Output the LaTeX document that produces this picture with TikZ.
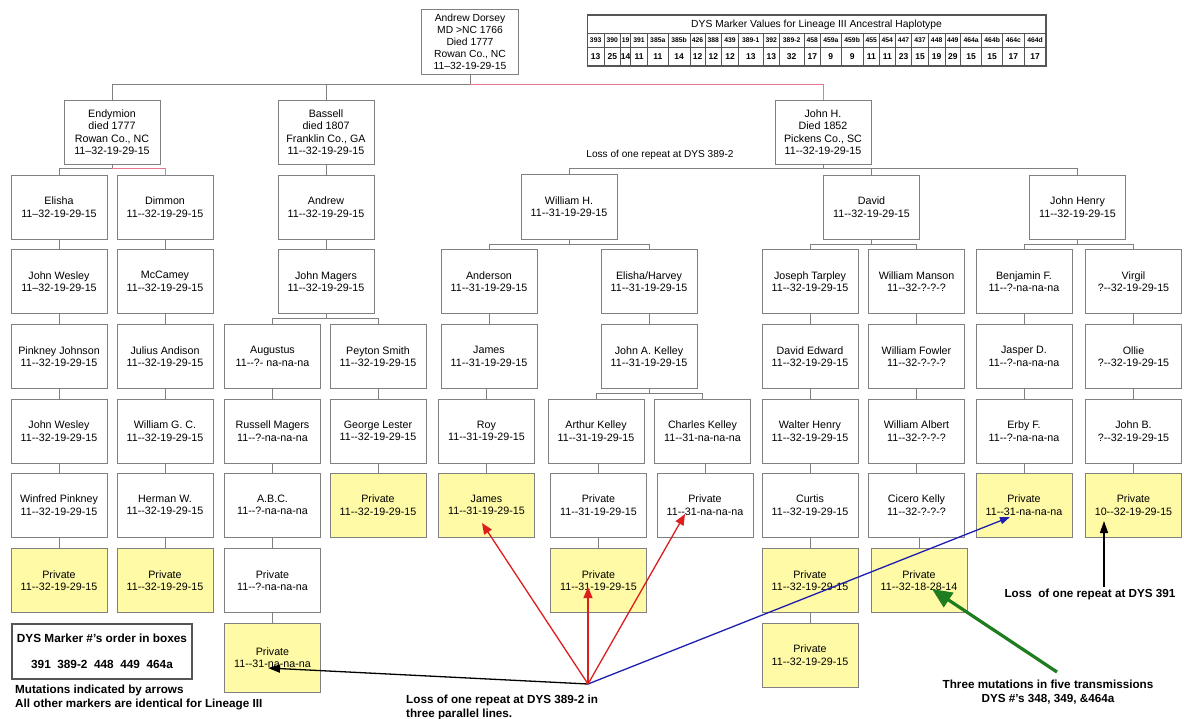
\documentclass[tikz,border=0pt]{standalone}
\usepackage{fontspec}
\setmainfont{Liberation Sans}
\usetikzlibrary{arrows.meta,calc}
\definecolor{boxline}{RGB}{128,128,128}
\definecolor{privy}{RGB}{255,250,165}
\definecolor{redline}{RGB}{232,120,140}
\definecolor{arrred}{RGB}{222,30,30}
\definecolor{arrblue}{RGB}{30,30,175}
\definecolor{arrgreen}{RGB}{30,125,30}
\definecolor{tabline}{RGB}{85,85,85}
\begin{document}
\begin{tikzpicture}[x=1pt,y=-1pt,
 box/.style={draw=boxline, line width=0.8pt, fill=white, minimum width=96pt, minimum height=64pt, inner sep=0pt, align=center, font=\fontsize{10.7}{12.4}\selectfont},
 ybox/.style={box, fill=privy},
 conn/.style={draw=boxline, line width=0.8pt},
 rconn/.style={draw=redline, line width=0.8pt},
 redarr/.style={draw=arrred, line width=1.3pt, -{Triangle[length=11pt,width=9pt]}},
 bluearr/.style={draw=arrblue, line width=1.3pt, -{Triangle[length=10pt,width=7pt]}},
 blkarr/.style={draw=black, line width=1.3pt, -{Triangle[length=12pt,width=8pt]}},
 grnarr/.style={draw=arrgreen, line width=3.2pt, -{Triangle[length=20pt,width=17pt]}},
 note/.style={font=\fontsize{11.7}{14}\selectfont\bfseries, inner sep=0pt},
 hdr/.style={font=\fontsize{6.8}{8}\selectfont\bfseries, inner sep=0pt},
 val/.style={font=\fontsize{8.5}{9}\selectfont\bfseries, inner sep=0pt}]
\useasboundingbox[fill=white] (0,0) rectangle (1184,719);

% ---------------- table ----------------
\draw[tabline, line width=1.2pt] (587.3,15) rectangle (1046,66);
\draw[tabline, line width=0.8pt] (587.3,33) -- (1046,33) (587.3,47) -- (1046,47);
\node[font=\fontsize{10.3}{12}\selectfont, inner sep=0pt] (tabtitle) at (816.5,24.5) {DYS Marker Values for Lineage III Ancestral Haplotype};
\foreach \l/\r/\h/\v in {587.3/604/393/13, 604/620.7/390/25, 620.7/630.7/19/14, 630.7/647.3/391/11, 647.3/668.3/385a/11, 668.3/690/385b/14, 690/705/426/12, 705/721.7/388/12, 721.7/738.3/439/12, 738.3/763.3/389-1/13, 763.3/779.3/392/13, 779.3/804/389-2/32, 804/820.7/458/17, 820.7/841/459a/9, 841/863.3/459b/9, 863.3/879.3/455/11, 879.3/895.3/454/11, 895.3/911.7/447/23, 911.7/928.3/437/15, 928.3/945/448/19, 945/960.7/449/29, 960.7/981.7/464a/15, 981.7/1002.7/464b/15, 1002.7/1024/464c/17, 1024/1046/464d/17}{
  \draw[tabline, line width=0.8pt] (\l,33) -- (\l,66);
  \node[hdr] at ({(\l+\r)/2},40.3) {\h};
  \node[val] at ({(\l+\r)/2},56.5) {\v};
}

% ---------------- top ----------------
\node[box, minimum width=97pt, minimum height=65pt, font=\fontsize{10.3}{12}\selectfont] (AD) at (470,41.5) {Andrew Dorsey\\MD >NC 1766\\Died 1777\\Rowan Co., NC\\11--32-19-29-15};

\node[box] (END) at (112,132) {Endymion\\died 1777\\Rowan Co., NC\\11--32-19-29-15};
\node[box] (BAS) at (326,132) {Bassell\\died 1807\\Franklin Co., GA\\11-{}-32-19-29-15};
\node[box] (JH) at (823,132) {John H.\\Died 1852\\Pickens Co., SC\\11-{}-32-19-29-15};

% column A
\node[box] (A1) at (59,207) {Elisha\\11--32-19-29-15};
\node[box] (A2) at (59,281.5) {John Wesley\\11--32-19-29-15};
\node[box] (A3) at (59,356.5) {Pinkney Johnson\\11-{}-32-19-29-15};
\node[box] (A4) at (59,431) {John Wesley\\11-{}-32-19-29-15};
\node[box] (A5) at (59,505) {Winfred Pinkney\\11-{}-32-19-29-15};
\node[ybox] (A6) at (59,580.5) {Private\\11-{}-32-19-29-15};
% column B
\node[box] (B1) at (165,207) {Dimmon\\11-{}-32-19-29-15};
\node[box] (B2) at (165,281.5) {McCamey\\11-{}-32-19-29-15};
\node[box] (B3) at (165,356.5) {Julius Andison\\11-{}-32-19-29-15};
\node[box] (B4) at (165,431) {William G. C.\\11-{}-32-19-29-15};
\node[box] (B5) at (165,505) {Herman W.\\11-{}-32-19-29-15};
\node[ybox] (B6) at (165,580.5) {Private\\11-{}-32-19-29-15};
% Bassell line
\node[box] (AN1) at (326,207) {Andrew\\11-{}-32-19-29-15};
\node[box] (JM) at (326,281.5) {John Magers\\11-{}-32-19-29-15};
\node[box] (G3) at (272.5,356.5) {Augustus\\11-{}-?- na-na-na};
\node[box] (G4) at (272.5,431) {Russell Magers\\11-{}-?-na-na-na};
\node[box] (G5) at (272.5,505) {A.B.C.\\11-{}-?-na-na-na};
\node[box] (G6) at (272.5,580.5) {Private\\11-{}-?-na-na-na};
\node[ybox, minimum height=69pt] (G7) at (272.5,657.5) {Private\\11-{}-31-na-na-na};
\node[box] (P3) at (378,356.5) {Peyton Smith\\11-{}-32-19-29-15};
\node[box] (P4) at (378,431) {George Lester\\11-{}-32-19-29-15};
\node[ybox] (P5) at (378,505) {Private\\11-{}-32-19-29-15};
% William H. line
\node[box, minimum height=65pt] (WH) at (569,206.5) {William H.\\11-{}-31-19-29-15};
\node[box] (N2) at (489,281.5) {Anderson\\11-{}-31-19-29-15};
\node[box] (N3) at (489,356.5) {James\\11-{}-31-19-29-15};
\node[box] (N4) at (486.5,431) {Roy\\11-{}-31-19-29-15};
\node[ybox] (N5) at (486.5,505) {James\\11-{}-31-19-29-15};
\node[box] (H2) at (649,281.5) {Elisha/Harvey\\11-{}-31-19-29-15};
\node[box] (H3) at (649,356.5) {John A. Kelley\\11-{}-31-19-29-15};
\node[box] (K4) at (596,431) {Arthur Kelley\\11-{}-31-19-29-15};
\node[box] (K5) at (598.5,505) {Private\\11-{}-31-19-29-15};
\node[ybox] (K6) at (598.5,580.5) {Private\\11-{}-31-19-29-15};
\node[box] (C4) at (702.5,431) {Charles Kelley\\11-{}-31-na-na-na};
\node[box] (C5) at (705,505) {Private\\11-{}-31-na-na-na};
% David line
\node[box] (DAV) at (871.5,207) {David\\11-{}-32-19-29-15};
\node[box] (T2) at (810,281.5) {Joseph Tarpley\\11-{}-32-19-29-15};
\node[box] (T3) at (810,356.5) {David Edward\\11-{}-32-19-29-15};
\node[box] (T4) at (810,431) {Walter Henry\\11-{}-32-19-29-15};
\node[box] (T5) at (810,505) {Curtis\\11-{}-32-19-29-15};
\node[ybox] (T6) at (810,580.5) {Private\\11-{}-32-19-29-15};
\node[ybox] (T7) at (810,655) {Private\\11-{}-32-19-29-15};
\node[box] (M2) at (916.5,281.5) {William Manson\\11-{}-32-?-?-?};
\node[box] (M3) at (916.5,356.5) {William Fowler\\11-{}-32-?-?-?};
\node[box] (M4) at (916.5,431) {William Albert\\11-{}-32-?-?-?};
\node[box] (M5) at (916.5,505) {Cicero Kelly\\11-{}-32-?-?-?};
\node[ybox] (M6) at (919,580.5) {Private\\11-{}-32-18-28-14};
% John Henry line
\node[box] (JHY) at (1077.5,207) {John Henry\\11-{}-32-19-29-15};
\node[box] (F2) at (1024,281.5) {Benjamin F.\\11-{}-?-na-na-na};
\node[box] (F3) at (1024,356.5) {Jasper D.\\11-{}-?-na-na-na};
\node[box] (F4) at (1024,431) {Erby F.\\11-{}-?-na-na-na};
\node[ybox] (F5) at (1024,505) {Private\\11-{}-31-na-na-na};
\node[box] (V2) at (1133.5,281.5) {Virgil\\?-{}-32-19-29-15};
\node[box] (V3) at (1133.5,356.5) {Ollie\\?-{}-32-19-29-15};
\node[box] (V4) at (1133.5,431) {John B.\\?-{}-32-19-29-15};
\node[ybox] (V5) at (1133.5,505) {Private\\10-{}-32-19-29-15};

% ---------------- connectors ----------------
\draw[conn] (AD.south) -- ++(0,10) coordinate (topbus) -| (END.north);
\draw[conn] (topbus) -| (BAS.north);
\draw[rconn] (topbus) -| (JH.north);
\draw[conn] (END.south) -- ++(0,4) coordinate (eb) -| (A1.north);
\draw[rconn] (eb) -| (B1.north);
\draw[conn] (JM.south) -- ++(0,4.5) coordinate (jmb) -| (G3.north);
\draw[conn] (jmb) -| (P3.north);
\draw[conn] (JH.south) -- ++(0,4) coordinate (jhb) -| (WH.north);
\draw[conn] (jhb) -| (DAV.north);
\draw[conn] (jhb) -| (JHY.north);
\draw[conn] (WH.south) -- ++(0,5.5) coordinate (whb) -| (N2.north);
\draw[conn] (whb) -| (H2.north);
\draw[conn] (DAV.south) -- ++(0,5) coordinate (dvb) -| (T2.north);
\draw[conn] (dvb) -| (M2.north);
\draw[conn] (JHY.south) -- ++(0,5) coordinate (jyb) -| (F2.north);
\draw[conn] (jyb) -| (V2.north);
\draw[conn] (H3.south) -- ++(0,4.5) coordinate (h3b) -| (K4.north);
\draw[conn] (h3b) -| (C4.north);
\foreach \a/\b in {A1/A2,A2/A3,A3/A4,A4/A5,A5/A6,B1/B2,B2/B3,B3/B4,B4/B5,B5/B6,BAS/AN1,AN1/JM,G3/G4,G4/G5,G5/G6,G6/G7,P3/P4,P4/P5,N2/N3,N3/N4,N4/N5,H2/H3,K4/K5,K5/K6,C4/C5,T2/T3,T3/T4,T4/T5,T5/T6,T6/T7,M2/M3,M3/M4,M4/M5,M5/M6,F2/F3,F3/F4,F4/F5,V2/V3,V3/V4,V4/V5}{
  \draw[conn] (\b.north) -- (\b.north |- \a.south);
}

% ---------------- annotations ----------------
\node[font=\fontsize{10.1}{11}\selectfont, inner sep=0pt] (losstop) at (660,155) {Loss of one repeat at DYS 389-2};
\node[draw=tabline, line width=1.4pt, minimum width=180pt, minimum height=55pt, inner sep=0pt, align=center, font=\fontsize{11.8}{13}\selectfont\bfseries] (legend) at (102,651.5) {DYS Marker \#'s order in boxes\\[13pt]391\ \ 389-2\ \ 448\ \ 449\ \ 464a};
\node[note, anchor=west, align=left] (mut) at (15,697) {Mutations indicated by arrows\\All other markers are identical for Lineage III};
\node[note, anchor=west, align=left] (loss389) at (406,707) {Loss of one repeat at DYS 389-2 in\\three parallel lines.};
\node[note] (loss391) at (1090,594) {Loss\ \ of one repeat at DYS 391};
\node[note, align=center] (three) at (1048,692) {Three mutations in five transmissions\\DYS \#'s 348, 349, \&464a};

% ---------------- arrows ----------------
\coordinate (O) at (588,684);
\coordinate (tG7) at (268,668);
\coordinate (tN5) at (482,523);
\coordinate (tK6) at (588,587);
\coordinate (tC5) at (685,514);
\coordinate (tF5) at (1010,517);
\coordinate (s391) at (1104,587);
\coordinate (t391) at (1104,521);
\coordinate (sG) at (1057,672);
\coordinate (tG) at (932,589);
\draw[blkarr] (O) -- (tG7);
\draw[bluearr] (O) -- (tF5);
\draw[redarr] (O) -- (tN5);
\draw[redarr] (O) -- (tK6);
\draw[redarr] (O) -- (tC5);
\draw[blkarr] (s391) -- (t391);
\draw[grnarr] (sG) -- (tG);
\end{tikzpicture}
\end{document}
